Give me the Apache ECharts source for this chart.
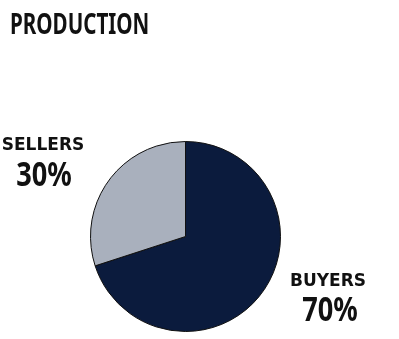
<!DOCTYPE html>
<html>
<head>
<meta charset="utf-8">
<script src="https://cdn.jsdelivr.net/npm/echarts@6/dist/echarts.min.js"></script>
<style>html,body{margin:0;padding:0;background:#fff}#c{width:399px;height:339px}</style>
</head>
<body>
<div id="c"></div>
<script>
var titleText = 'PRODUCTION';
var categories = ['BUYERS', 'SELLERS'];
var values = [70, 30];
var colors = ['#0b1b3d', '#a9b0bd'];

// label anchor points (layout only)
var nameAnchors = [[328, 282], [43, 146]];
var pctAnchors = [[330, 311], [44, 176]];

var chart = echarts.init(document.getElementById('c'), null, {renderer: 'canvas'});

var graphics = [{
  type: 'text', x: 10, y: 11, scaleX: 0.71, silent: true,
  style: {text: titleText, x: 0, y: 0, font: 'bold 29px "Noto Sans"', fill: '#111', textAlign: 'left', textVerticalAlign: 'top'}
}];
categories.forEach(function (c, i) {
  graphics.push({
    type: 'text', x: pctAnchors[i][0], y: pctAnchors[i][1], scaleX: 0.8, silent: true,
    style: {text: values[i] + '%', x: 0, y: 0, font: 'bold 34px "Noto Sans"', fill: '#111', textAlign: 'center', textVerticalAlign: 'middle'}
  });
});

chart.setOption({
  backgroundColor: '#ffffff',
  animation: false,
  graphic: graphics,
  series: [{
    type: 'pie',
    center: [185.5, 236.5],
    radius: 95,
    startAngle: 90,
    clockwise: true,
    data: categories.map(function (c, i) {
      return {name: c, value: values[i], itemStyle: {color: colors[i]}};
    }),
    itemStyle: {borderColor: '#111', borderWidth: 1},
    emphasis: {disabled: true},
    labelLine: {show: false},
    label: {
      show: true,
      position: 'outside',
      overflow: 'none',
      formatter: '{b}',
      fontFamily: '"DejaVu Sans"',
      fontWeight: 'bold',
      fontSize: 17,
      color: '#111'
    },
    labelLayout: function (params) {
      var a = nameAnchors[params.dataIndex];
      return {x: a[0], y: a[1], align: 'center', verticalAlign: 'middle', hideOverlap: false};
    }
  }]
});
</script>
</body>
</html>
